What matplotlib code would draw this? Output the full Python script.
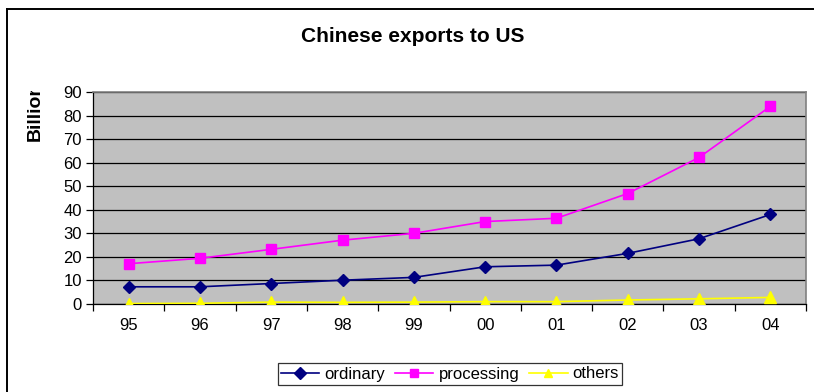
import matplotlib
matplotlib.use("Agg")
import matplotlib.pyplot as plt
from matplotlib.lines import Line2D
from matplotlib.transforms import Bbox

plt.rcParams['font.family'] = ['Liberation Sans', 'DejaVu Sans']

years = ["95", "96", "97", "98", "99", "00", "01", "02", "03", "04"]
ordinary = [7.3, 7.3, 8.7, 10.1, 11.3, 15.8, 16.5, 21.5, 27.7, 38.0]
processing = [17.1, 19.4, 23.2, 27.1, 30.0, 35.0, 36.4, 46.9, 62.2, 83.9]
others = [0.2, 0.3, 0.8, 0.7, 0.8, 1.0, 1.0, 1.7, 2.2, 2.8]
yticks = [0, 10, 20, 30, 40, 50, 60, 70, 80, 90]

W, H = 814, 392
fig = plt.figure(figsize=(W / 100, H / 100), dpi=100)
fig.patch.set_facecolor('white')

L, R, T, B = 93, 806, 92, 304
ax = fig.add_axes([L / W, (H - B) / H, (R - L) / W, (B - T) / H])
ax.set_facecolor('#C0C0C0')

x = list(range(len(years)))
ax.plot(x, ordinary, color='#000080', lw=1.2, marker='D', ms=6, mfc='#000080', mec='#000080', label='ordinary', zorder=3)
ax.plot(x, processing, color='#FF00FF', lw=1.2, marker='s', ms=7.5, mfc='#FF00FF', mec='#FF00FF', label='processing', zorder=3)
ax.plot(x, others, color='#FFFF00', lw=1.2, marker='^', ms=8, mfc='#FFFF00', mec='#FFFF00', label='others', zorder=3)

ax.set_xlim(-0.5, len(years) - 0.5)
ax.set_ylim(0, 90)
ax.set_yticks(yticks)
ax.set_yticklabels([str(v) for v in yticks], fontsize=12)
ax.yaxis.grid(True, color='black', lw=0.9)
ax.set_axisbelow(True)

ax.set_xticks([i - 0.5 for i in range(len(years) + 1)])
ax.set_xticklabels([])
ax.set_xticks(x, minor=True)
ax.set_xticklabels(years, minor=True, fontsize=12)
ax.tick_params(axis='x', which='major', length=5, width=0.9, color='black', direction='out')
ax.tick_params(axis='x', which='minor', length=0, pad=10)
ax.tick_params(axis='y', length=5, width=0.9, color='black', direction='out', pad=3)

for s in ['top', 'right']:
    ax.spines[s].set_color('#808080')
    ax.spines[s].set_linewidth(1.2)
for s in ['left', 'bottom']:
    ax.spines[s].set_color('black')
    ax.spines[s].set_linewidth(0.9)

fig.text(413 / W, 1 - 37 / H, 'Chinese exports to US', ha='center', va='center',
         fontsize=15, fontweight='bold')

yl = fig.text(35 / W, 1 - 141 / H, 'Billion', ha='left', va='center', rotation=90,
              rotation_mode='anchor', fontsize=14, fontweight='bold')
yl.set_clip_box(Bbox.from_extents(0, 0, W, H - 91))
yl.set_clip_on(True)

leg = fig.legend(loc='center', bbox_to_anchor=(450 / W, 1 - 374 / H), ncol=3, fontsize=12,
                 frameon=True, fancybox=False, edgecolor='black', borderpad=0.2,
                 handlelength=2.3, handletextpad=0.3, columnspacing=0.6, borderaxespad=0)
leg.get_frame().set_linewidth(0.9)
for h in leg.legend_handles:
    h.set_markersize(6)

fig.add_artist(Line2D([6.5 / W, 1], [1 - 9 / H, 1 - 9 / H], color='black', lw=1.4, transform=fig.transFigure))
fig.add_artist(Line2D([6.5 / W, 6.5 / W], [0, 1 - 9 / H], color='black', lw=1.4, transform=fig.transFigure))

fig.savefig('out.png', dpi=100)
